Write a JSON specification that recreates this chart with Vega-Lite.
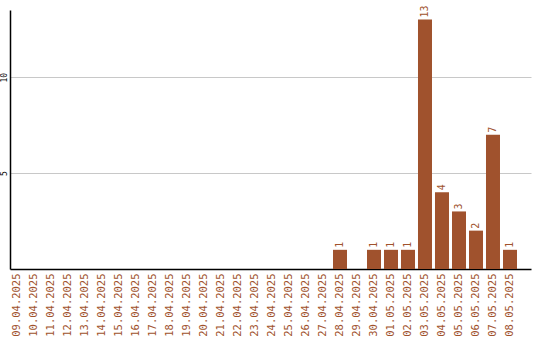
{
  "$schema": "https://vega.github.io/schema/vega-lite/v6.json",
  "autosize": "none",
  "padding": {"left": 10, "top": 10, "right": 9, "bottom": 71},
  "width": 521,
  "height": 259,
  "background": "white",
  "data": {"values": [
    {"date": "09.04.2025", "count": 0},
    {"date": "10.04.2025", "count": 0},
    {"date": "11.04.2025", "count": 0},
    {"date": "12.04.2025", "count": 0},
    {"date": "13.04.2025", "count": 0},
    {"date": "14.04.2025", "count": 0},
    {"date": "15.04.2025", "count": 0},
    {"date": "16.04.2025", "count": 0},
    {"date": "17.04.2025", "count": 0},
    {"date": "18.04.2025", "count": 0},
    {"date": "19.04.2025", "count": 0},
    {"date": "20.04.2025", "count": 0},
    {"date": "21.04.2025", "count": 0},
    {"date": "22.04.2025", "count": 0},
    {"date": "23.04.2025", "count": 0},
    {"date": "24.04.2025", "count": 0},
    {"date": "25.04.2025", "count": 0},
    {"date": "26.04.2025", "count": 0},
    {"date": "27.04.2025", "count": 0},
    {"date": "28.04.2025", "count": 1},
    {"date": "29.04.2025", "count": 0},
    {"date": "30.04.2025", "count": 1},
    {"date": "01.05.2025", "count": 1},
    {"date": "02.05.2025", "count": 1},
    {"date": "03.05.2025", "count": 13},
    {"date": "04.05.2025", "count": 4},
    {"date": "05.05.2025", "count": 3},
    {"date": "06.05.2025", "count": 2},
    {"date": "07.05.2025", "count": 7},
    {"date": "08.05.2025", "count": 1}
  ]},
  "encoding": {
    "x": {
      "field": "date", "type": "ordinal", "sort": null,
      "scale": {"paddingInner": 0.1765, "paddingOuter": 0.412, "align": 0},
      "axis": {
        "title": null, "labelAngle": -90, "ticks": false, "labelPadding": 4,
        "labelFont": "DejaVu Sans Mono", "labelFontSize": 10.5, "labelColor": "#a0522d",
        "domainColor": "#000000", "domainWidth": 1.5, "grid": false
      }
    },
    "y": {
      "field": "count", "type": "quantitative",
      "scale": {"domain": [0, 13.5], "nice": false},
      "axis": {
        "title": null, "values": [5, 10], "ticks": false, "labelAngle": -90,
        "labelFont": "DejaVu Sans Mono", "labelFontSize": 8, "labelColor": "#000000",
        "labelPadding": 2, "labelAlign": "center", "labelBaseline": "bottom",
        "domainColor": "#000000", "domainWidth": 1.5,
        "grid": true, "gridColor": "#c8c8c8", "gridWidth": 1
      }
    }
  },
  "layer": [
    {"mark": {"type": "bar", "color": "#a0522d"}},
    {
      "transform": [{"filter": "datum.count > 0"}],
      "mark": {"type": "text", "angle": -90, "align": "left", "baseline": "middle", "dx": 2,
               "font": "DejaVu Sans Mono", "fontSize": 10, "color": "#a0522d"},
      "encoding": {"text": {"field": "count", "type": "quantitative"}}
    }
  ],
  "config": {"view": {"stroke": null}}
}
